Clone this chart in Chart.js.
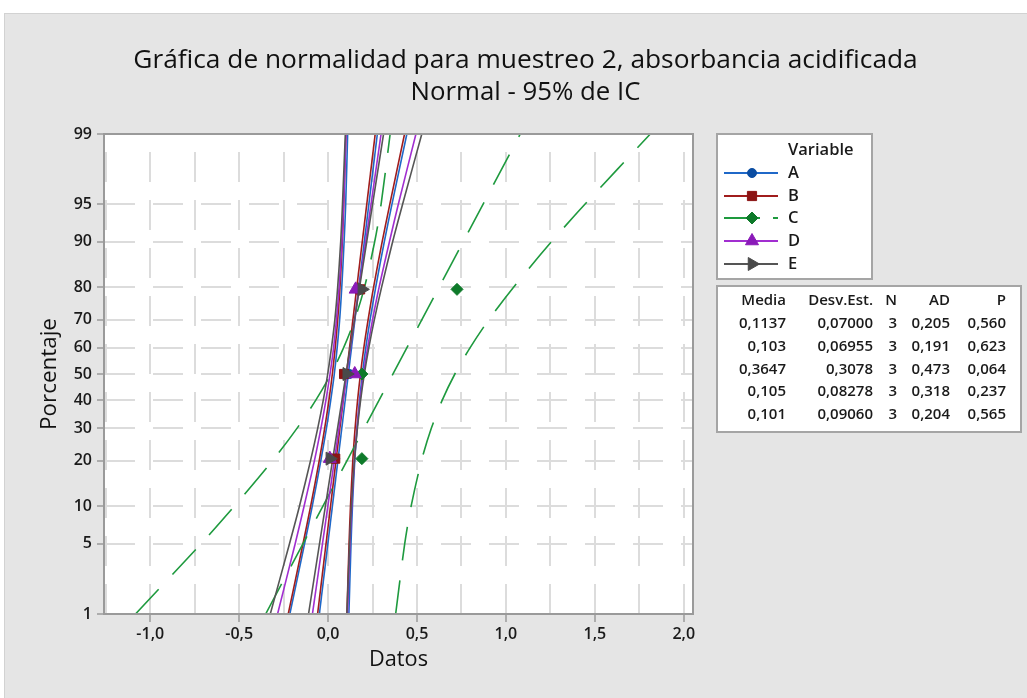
<!DOCTYPE html>
<html><head><meta charset="utf-8">
<script src="https://cdn.jsdelivr.net/npm/chart.js@4.4.0/dist/chart.umd.min.js"></script>
<style>html,body{margin:0;padding:0;background:#fff;}canvas{display:block;}</style>
</head><body>
<canvas id="c" width="1027" height="698" style="width:1027px;height:698px"></canvas>
<script>
// ---------------- DATA ----------------
const titleText = 'Gráfica de normalidad para muestreo 2, absorbancia acidificada';
const subtitleText = 'Normal - 95% de IC';
const xAxisTitle = 'Datos';
const yAxisTitle = 'Porcentaje';

const percentTicks = [1, 5, 10, 20, 30, 40, 50, 60, 70, 80, 90, 95, 99];
const xGridValues = [-1.25, -1.0, -0.75, -0.5, -0.25, 0, 0.25, 0.5, 0.75, 1.0, 1.25, 1.5, 1.75, 2.0];
const xMajorTicks = [-1.0, -0.5, 0, 0.5, 1.0, 1.5, 2.0];
const xMajorLabels = ['-1,0', '-0,5', '0,0', '0,5', '1,0', '1,5', '2,0'];
const xMin = -1.26, xMax = 2.052;

const seriesNames = ['A', 'B', 'C', 'D', 'E'];
const rankPercent = [20.6, 50, 79.4];      // plotting positions of the 3 observations
const fitPercent = [1, 99];                // fitted line end points
const bandPercent = [1, 5, 10, 20, 30, 40, 50, 60, 70, 80, 90, 95, 99];

const A_points = [0.04, 0.12, 0.18];
const A_fit = [-0.049, 0.277];
const A_lower = [-0.215, -0.132, -0.089, -0.041, -0.009, 0.015, 0.035, 0.051, 0.065, 0.077, 0.090, 0.099, 0.110];
const A_upper = [0.117, 0.129, 0.137, 0.150, 0.163, 0.177, 0.193, 0.212, 0.236, 0.268, 0.316, 0.359, 0.443];

const B_points = [0.04, 0.09, 0.18];
const B_fit = [-0.059, 0.265];
const B_lower = [-0.224, -0.141, -0.098, -0.050, -0.019, 0.005, 0.024, 0.040, 0.054, 0.067, 0.080, 0.088, 0.100];
const B_upper = [0.106, 0.118, 0.126, 0.139, 0.152, 0.166, 0.182, 0.201, 0.225, 0.256, 0.304, 0.347, 0.430];

const C_points = [0.19, 0.19, 0.725];
const C_fit = [-0.351, 1.081];
const C_lower = [-1.083, -0.714, -0.527, -0.313, -0.174, -0.069, 0.016, 0.087, 0.149, 0.205, 0.262, 0.298, 0.349];
const C_upper = [0.380, 0.431, 0.467, 0.525, 0.581, 0.642, 0.713, 0.798, 0.903, 1.043, 1.256, 1.444, 1.812];

const D_points = [0.01, 0.15, 0.155];
const D_fit = [-0.088, 0.298];
const D_lower = [-0.284, -0.185, -0.135, -0.077, -0.040, -0.012, 0.011, 0.031, 0.047, 0.062, 0.078, 0.087, 0.101];
const D_upper = [0.109, 0.123, 0.133, 0.148, 0.163, 0.180, 0.199, 0.222, 0.250, 0.287, 0.345, 0.395, 0.494];

const E_points = [0.01, 0.105, 0.19];
const E_fit = [-0.110, 0.312];
const E_lower = [-0.325, -0.217, -0.161, -0.099, -0.058, -0.027, -0.002, 0.019, 0.038, 0.054, 0.071, 0.081, 0.097];
const E_upper = [0.106, 0.121, 0.131, 0.148, 0.165, 0.183, 0.204, 0.229, 0.260, 0.301, 0.363, 0.419, 0.527];

const statHeaders = ['Media', 'Desv.Est.', 'N', 'AD', 'P'];
const statMedia = ['0,1137', '0,103', '0,3647', '0,105', '0,101'];
const statDesv = ['0,07000', '0,06955', '0,3078', '0,08278', '0,09060'];
const statN = ['3', '3', '3', '3', '3'];
const statAD = ['0,205', '0,191', '0,473', '0,318', '0,204'];
const statP = ['0,560', '0,623', '0,064', '0,237', '0,565'];

// ---------------- STYLE ----------------
const FONT = "'Open Sans', 'Noto Sans', sans-serif";
const styles = {
  A: {line: '#1f68c8', mark: '#0b4da2', pointStyle: 'circle', radius: 4.5, rotation: 0, dash: []},
  B: {line: '#a01c1c', mark: '#8b1414', pointStyle: 'rect', radius: 6.5, rotation: 0, dash: []},
  C: {line: '#1e9a3e', mark: '#0e7a2a', pointStyle: 'rectRot', radius: 6, rotation: 0, dash: [34, 20]},
  D: {line: '#a12ed0', mark: '#8a1ab8', pointStyle: 'triangle', radius: 7.5, rotation: 0, dash: []},
  E: {line: '#555555', mark: '#4a4a4a', pointStyle: 'triangle', radius: 7.5, rotation: 90, dash: []}
};
const drawRank = {A: 4, B: 3, C: 2, D: 1, E: 0};

// inverse standard normal CDF (probability-paper transform of the y axis)
function probit(p) {
  const a = [-3.969683028665376e+01, 2.209460984245205e+02, -2.759285104469687e+02, 1.383577518672690e+02, -3.066479806614716e+01, 2.506628277459239e+00];
  const b = [-5.447609879822406e+01, 1.615858368580409e+02, -1.556989798598866e+02, 6.680131188771972e+01, -1.328068155288572e+01];
  const c = [-7.784894002430293e-03, -3.223964580411365e-01, -2.400758277161838e+00, -2.549671667672660e+00, 4.374664141464968e+00, 2.938163982698783e+00];
  const d = [7.784695709041462e-03, 3.224671290700398e-01, 2.445134137142996e+00, 3.754408661907416e+00];
  const pl = 0.02425;
  if (p < pl) { const q = Math.sqrt(-2 * Math.log(p)); return (((((c[0]*q+c[1])*q+c[2])*q+c[3])*q+c[4])*q+c[5]) / ((((d[0]*q+d[1])*q+d[2])*q+d[3])*q+1); }
  if (p > 1 - pl) { const q = Math.sqrt(-2 * Math.log(1 - p)); return -(((((c[0]*q+c[1])*q+c[2])*q+c[3])*q+c[4])*q+c[5]) / ((((d[0]*q+d[1])*q+d[2])*q+d[3])*q+1); }
  const q = p - 0.5, r = q * q;
  return (((((a[0]*r+a[1])*r+a[2])*r+a[3])*r+a[4])*r+a[5]) * q / (((((b[0]*r+b[1])*r+b[2])*r+b[3])*r+b[4])*r+1);
}
function toXY(xs, ps) { return xs.map((x, i) => ({x: x, y: probit(ps[i] / 100)})); }

const seriesData = {
  A: {points: A_points, fit: A_fit, lower: A_lower, upper: A_upper},
  B: {points: B_points, fit: B_fit, lower: B_lower, upper: B_upper},
  C: {points: C_points, fit: C_fit, lower: C_lower, upper: C_upper},
  D: {points: D_points, fit: D_fit, lower: D_lower, upper: D_upper},
  E: {points: E_points, fit: E_fit, lower: E_lower, upper: E_upper}
};

const datasets = [];
seriesNames.forEach(n => {
  const s = styles[n], d = seriesData[n];
  const lineBase = {showLine: true, pointRadius: 0, pointHoverRadius: 0, borderColor: s.line, borderWidth: 1.6, borderDash: s.dash, fill: false, order: 10 + drawRank[n]};
  datasets.push(Object.assign({label: n + ' ajuste', data: toXY(d.fit, fitPercent), tension: 0}, lineBase));
  datasets.push(Object.assign({label: n + ' IC inf', data: toXY(d.lower, bandPercent), tension: 0.3}, lineBase));
  datasets.push(Object.assign({label: n + ' IC sup', data: toXY(d.upper, bandPercent), tension: 0.3}, lineBase));
  datasets.push({label: n, data: toXY(d.points, rankPercent), showLine: false, pointStyle: s.pointStyle, pointRadius: s.radius,
    pointRotation: s.rotation, backgroundColor: s.mark, borderColor: s.mark, borderWidth: 1, order: drawRank[n]});
});

// font size fitting from measured widths in the reference
const mctx = document.createElement('canvas').getContext('2d');
function fitSize(text, target, weight) { mctx.font = (weight || 'normal') + ' 100px ' + FONT; return 100 * target / mctx.measureText(text).width; }
const titleSize = fitSize(titleText, 785);
const subSize = fitSize(subtitleText, 230);
const yTitleSize = fitSize(yAxisTitle, 112);
const xTitleSize = fitSize(xAxisTitle, 59);

const gridColor = '#dcdcdc';
const axisColor = '#9a9a9a';
const textColor = '#1a1a1a';
const tickFont = {family: FONT, size: 16, weight: '600'};

const bgPlugin = {
  id: 'bg',
  beforeDraw(chart) {
    const ctx = chart.ctx, a = chart.chartArea;
    ctx.save();
    ctx.fillStyle = '#ffffff'; ctx.fillRect(0, 0, chart.width, chart.height);
    ctx.fillStyle = '#e5e5e5'; ctx.fillRect(4, 13, chart.width - 4, chart.height - 13);
    ctx.strokeStyle = '#d2d2d2'; ctx.lineWidth = 1; ctx.strokeRect(4.5, 13.5, chart.width, chart.height);
    ctx.fillStyle = '#ffffff'; ctx.fillRect(a.left, a.top, a.right - a.left, a.bottom - a.top);
    ctx.restore();
  },
  afterDatasetsDraw(chart) {
    const ctx = chart.ctx, a = chart.chartArea;
    ctx.save();
    ctx.strokeStyle = axisColor; ctx.lineWidth = 2;
    ctx.strokeRect(a.left, a.top, a.right - a.left, a.bottom - a.top);
    ctx.restore();
  }
};

const legendPlugin = {
  id: 'boxes',
  afterDraw(chart) {
    const ctx = chart.ctx;
    ctx.save();
    // legend box
    ctx.fillStyle = '#ffffff'; ctx.fillRect(717, 134, 155, 145);
    ctx.strokeStyle = '#a5a5a5'; ctx.lineWidth = 2; ctx.strokeRect(717, 134, 155, 145);
    ctx.fillStyle = textColor; ctx.textBaseline = 'middle'; ctx.textAlign = 'left';
    ctx.font = '600 16.5px ' + FONT;
    ctx.fillText('Variable', 788, 150);
    const ys = [173, 196, 218, 241, 264];
    seriesNames.forEach((n, i) => {
      const s = styles[n], y = ys[i];
      ctx.save();
      ctx.strokeStyle = s.line; ctx.lineWidth = 2;
      if (n === 'C') { ctx.setLineDash([36, 13]); }
      ctx.beginPath(); ctx.moveTo(724, y); ctx.lineTo(778, y); ctx.stroke();
      ctx.setLineDash([]);
      ctx.fillStyle = s.mark; ctx.strokeStyle = s.mark; ctx.lineWidth = 1;
      Chart.helpers.drawPoint(ctx, {pointStyle: s.pointStyle, radius: s.radius, rotation: s.rotation, borderWidth: 1}, 752, y);
      ctx.restore();
      ctx.fillStyle = textColor;
      ctx.fillText(n, 788, y);
    });
    // statistics box
    ctx.fillStyle = '#ffffff'; ctx.fillRect(717, 286, 304, 146);
    ctx.strokeStyle = '#a5a5a5'; ctx.lineWidth = 2; ctx.strokeRect(717, 286, 304, 146);
    ctx.fillStyle = textColor; ctx.textAlign = 'right';
    ctx.font = '600 15px ' + FONT;
    const colRight = [786, 873, 897, 950, 1006];
    statHeaders.forEach((h, j) => ctx.fillText(h, colRight[j], 301));
    const cols = [statMedia, statDesv, statN, statAD, statP];
    const rowY = [324, 347, 370, 392, 415];
    rowY.forEach((y, i) => cols.forEach((col, j) => ctx.fillText(col[i], colRight[j], y)));
    ctx.restore();
  }
};

const isMajor = v => xMajorTicks.some(t => Math.abs(t - v) < 1e-9);

new Chart(document.getElementById('c'), {
  type: 'scatter',
  data: {datasets: datasets},
  options: {
    responsive: false, animation: false, devicePixelRatio: 1,
    layout: {padding: {left: 24, right: 0, top: 0, bottom: 0}},
    plugins: {
      legend: {display: false}, tooltip: {enabled: false},
      title: {display: true, text: titleText, color: '#111111',
        font: {family: FONT, size: titleSize, weight: 'normal', lineHeight: 1},
        padding: {top: 60 - titleSize / 2, bottom: 0}},
      subtitle: {display: true, text: subtitleText, color: '#111111',
        font: {family: FONT, size: subSize, weight: 'normal', lineHeight: 1},
        padding: {top: 93 - subSize / 2 - (60 + titleSize / 2), bottom: 134 - (93 + subSize / 2)}}
    },
    scales: {
      x: {
        type: 'linear', position: 'bottom', min: xMin, max: xMax, bounds: 'data',
        afterBuildTicks: s => { s.ticks = xGridValues.map(v => ({value: v})); },
        afterFit: s => { s.height = 84; },
        ticks: {autoSkip: false, maxRotation: 0, padding: 3, color: textColor, font: tickFont,
          callback: v => { const i = xMajorTicks.findIndex(t => Math.abs(t - v) < 1e-9); return i >= 0 ? xMajorLabels[i] : ''; }},
        grid: {color: gridColor, lineWidth: 2, tickLength: 8, tickWidth: 1.5,
          tickColor: ctx => (ctx.tick && isMajor(ctx.tick.value)) ? axisColor : 'rgba(0,0,0,0)'},
        border: {color: axisColor, width: 2, dash: [30, 18], dashOffset: 30},
        title: {display: true, text: xAxisTitle, color: '#111111', font: {family: FONT, size: xTitleSize, lineHeight: 1.2}, padding: {top: 0, bottom: 25}}
      },
      y: {
        type: 'linear', position: 'left', min: probit(0.01), max: probit(0.99), bounds: 'data',
        afterBuildTicks: s => { s.ticks = percentTicks.map(p => ({value: probit(p / 100)})); },
        afterFit: s => { s.width = 80; },
        ticks: {autoSkip: false, padding: 5, color: textColor, font: tickFont,
          callback: (v, i) => String(percentTicks[i])},
        grid: {color: gridColor, lineWidth: 2, tickLength: 7, tickWidth: 1.5, tickColor: axisColor},
        border: {color: axisColor, width: 2, dash: [30, 18], dashOffset: 0},
        title: {display: true, text: yAxisTitle, color: '#111111', font: {family: FONT, size: yTitleSize, lineHeight: 1.2}, padding: {top: 12, bottom: 0}}
      },
      yR: {
        type: 'linear', position: 'right', display: true,
        afterFit: s => { s.width = 334; },
        ticks: {display: false}, grid: {display: false, drawTicks: false}, border: {display: false}
      }
    }
  },
  plugins: [bgPlugin, legendPlugin]
});
</script>
</body></html>
